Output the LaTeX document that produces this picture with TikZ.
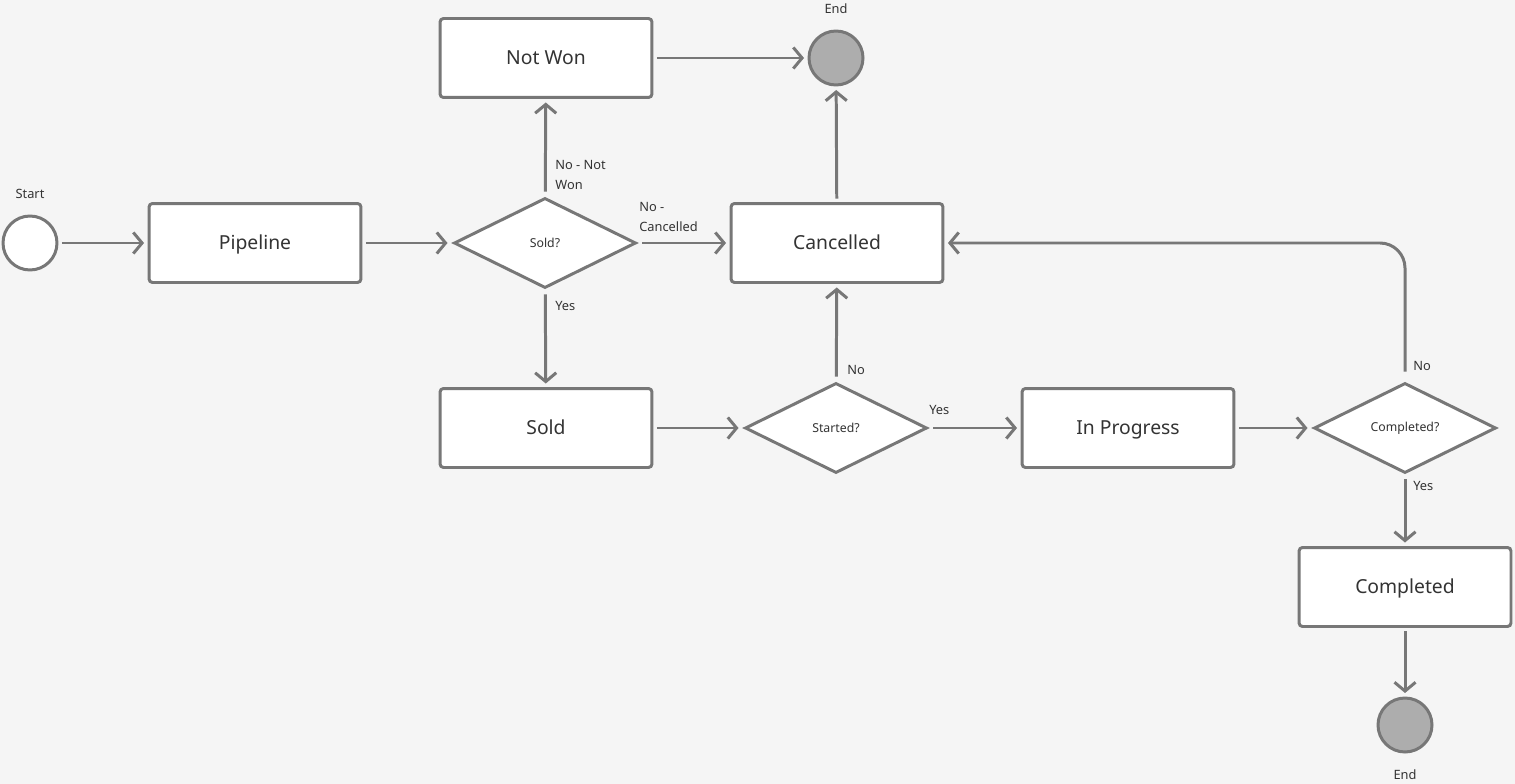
\documentclass[tikz,border=0pt]{standalone}
\usepackage{fontspec}
\setmainfont{Noto Sans}
\usetikzlibrary{shapes.geometric,arrows.meta}
\definecolor{ln}{HTML}{777777}
\definecolor{bg}{HTML}{F5F5F5}
\definecolor{tx}{HTML}{333333}
\begin{document}
\begin{tikzpicture}[x=0.02cm,y=-0.02cm,
  box/.style={draw=ln,line width=1.7pt,fill=white,rounded corners=2pt,minimum width=4.24cm,minimum height=1.58cm,font=\fontsize{11}{13}\selectfont,text=tx,outer sep=0.1cm,text height=1.6ex,text depth=0.3ex},
  dia/.style={draw=ln,line width=1.7pt,fill=white,diamond,aspect=2,inner sep=0pt,minimum width=3.7cm,minimum height=1.86cm,font=\fontsize{7}{9}\selectfont,text=tx,outer sep=0.1cm},
  circ/.style={draw=ln,line width=1.7pt,circle,minimum size=1.08cm,inner sep=0pt,outer sep=0.1cm},
  lab/.style={font=\fontsize{7.3}{11}\selectfont,text=tx,align=left,inner sep=0pt},
  arr/.style={draw=ln,line width=1.7pt,-{Straight Barb[length=5pt,width=12pt]}}]
\fill[bg] (0,0) rectangle (1515,784);
\node[circ,fill=white] (start) at (30,243) {};
\node[lab] (ls) at (30,194) {Start};
\node[box] (pipe) at (255,243) {Pipeline};
\node[dia] (sold) at (545,243) {Sold?};
\node[box] (notwon) at (546,58) {Not Won};
\node[circ,fill=ln!60] (end1) at (836,58) {};
\node[lab] (le1) at (836,9) {End};
\node[box] (canc) at (837,243) {Cancelled};
\node[box] (soldb) at (546,428) {Sold};
\node[dia] (started) at (836,428) {Started?};
\node[box] (inprog) at (1128,428) {In Progress};
\node[dia] (compq) at (1405,428) {Completed?};
\node[box] (comp) at (1405,587) {Completed};
\node[circ,fill=ln!60] (end2) at (1405,725) {};
\node[lab] (le2) at (1405,775) {End};
\draw[arr] (start) -- (pipe);
\draw[arr] (pipe) -- (sold);
\draw[arr] (sold) -- (notwon);
\draw[arr] (notwon) -- (end1);
\draw[arr] (sold) -- (canc);
\draw[arr] (canc) -- (end1);
\draw[arr] (sold) -- (soldb);
\draw[arr] (soldb) -- (started);
\draw[arr] (started) -- (canc);
\draw[arr] (started) -- (inprog);
\draw[arr] (inprog) -- (compq);
\draw[arr] (compq) -- (comp);
\draw[arr] (comp) -- (end2);
\draw[arr,rounded corners=0.5cm] (compq.north) ++(0,-5) |- (canc.east);
\node[lab,anchor=west] (l1) at (555,175) {No - Not\\Won};
\node[lab,anchor=west] (l2) at (639,217) {No -\\Cancelled};
\node[lab,anchor=west] (l3) at (555,306) {Yes};
\node[lab,anchor=west] (l4) at (847,370) {No};
\node[lab,anchor=west] (l5) at (929,410) {Yes};
\node[lab,anchor=west] (l6) at (1413,366) {No};
\node[lab,anchor=west] (l7) at (1413,486) {Yes};
\end{tikzpicture}
\end{document}
